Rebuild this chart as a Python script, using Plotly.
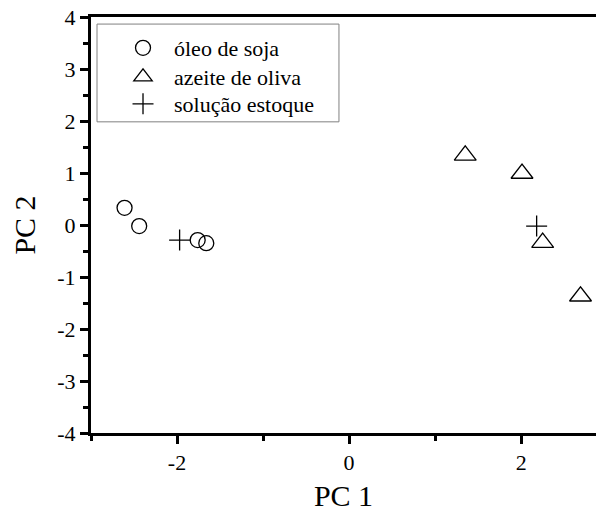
import plotly.graph_objects as go

# PCA scores (PC 1, PC 2) for each sample group
soja_pc1 = [-2.61, -2.44, -1.76, -1.66]
soja_pc2 = [0.33, -0.02, -0.29, -0.35]

oliva_pc1 = [1.35, 2.01, 2.25, 2.69]
oliva_pc2 = [1.34, 0.99, -0.34, -1.37]

estoque_pc1 = [-1.97, 2.18]
estoque_pc2 = [-0.29, -0.02]

x_ticks = [-2, 0, 2]
x_ticklabels = ["-2", "0", "2"]
y_ticks = [-4, -3, -2, -1, 0, 1, 2, 3, 4]
y_ticklabels = ["-4", "-3", "-2", "-1", "0", "1", "2", "3", "4"]

FONT = "Liberation Serif"

fig = go.Figure()
fig.add_trace(go.Scatter(
    x=soja_pc1, y=soja_pc2, mode="markers", name="óleo de soja", legend="legend",
    marker=dict(symbol="circle-open", size=15, color="black", line=dict(width=1.3, color="black")),
))
fig.add_trace(go.Scatter(
    x=oliva_pc1, y=oliva_pc2, mode="markers", name="azeite de oliva", legend="legend2",
    marker=dict(symbol="triangle-up-open", size=19, color="black", line=dict(width=1.3, color="black")),
))
fig.add_trace(go.Scatter(
    x=estoque_pc1, y=estoque_pc2, mode="markers", name="solução estoque", legend="legend3",
    marker=dict(symbol="cross-thin-open", size=15, color="black", line=dict(width=1.3, color="black")),
))

axis_common = dict(
    showgrid=False, zeroline=False, showline=True, linecolor="black", linewidth=3,
    ticks="outside", ticklen=8, tickwidth=3, tickcolor="black",
    tickfont=dict(family=FONT, size=22, color="black"),
)

fig.update_xaxes(
    range=[-3, 2.87], tickmode="array", tickvals=x_ticks, ticktext=x_ticklabels,
    mirror=True,
    minor=dict(dtick=1, ticks="outside", ticklen=5, tickwidth=3, tickcolor="black", showgrid=False),
    title=dict(text="PC 1", font=dict(family=FONT, size=30, color="black"), standoff=11),
    **axis_common,
)
fig.update_yaxes(
    range=[-4, 4], tickmode="array", tickvals=y_ticks, ticktext=y_ticklabels,
    mirror=False,
    minor=dict(dtick=0.5, ticks="outside", ticklen=5, tickwidth=3, tickcolor="black", showgrid=False),
    title=dict(text="PC 2", font=dict(family=FONT, size=30, color="black"), standoff=13),
    **axis_common,
)

# one legend per series, stacked inside a shared grey frame
legend_style = dict(
    x=0.0416, xanchor="left", yanchor="middle",
    bgcolor="rgba(0,0,0,0)", borderwidth=0,
    font=dict(family=FONT, size=22, color="black"),
    itemwidth=52,
)

fig.update_layout(
    width=596, height=518,
    margin=dict(l=91, r=0, t=17, b=85),
    paper_bgcolor="white", plot_bgcolor="white",
    font=dict(family=FONT, color="black"),
    showlegend=True,
    legend=dict(y=0.9255, **legend_style),
    legend2=dict(y=0.8558, **legend_style),
    legend3=dict(y=0.7909, **legend_style),
    shapes=[dict(
        type="rect", xref="paper", yref="paper",
        x0=0.0119, x1=0.491, y0=0.748, y1=0.983,
        line=dict(color="#808080", width=1), fillcolor="white", layer="below",
    )],
)

fig.write_html("out.html")
